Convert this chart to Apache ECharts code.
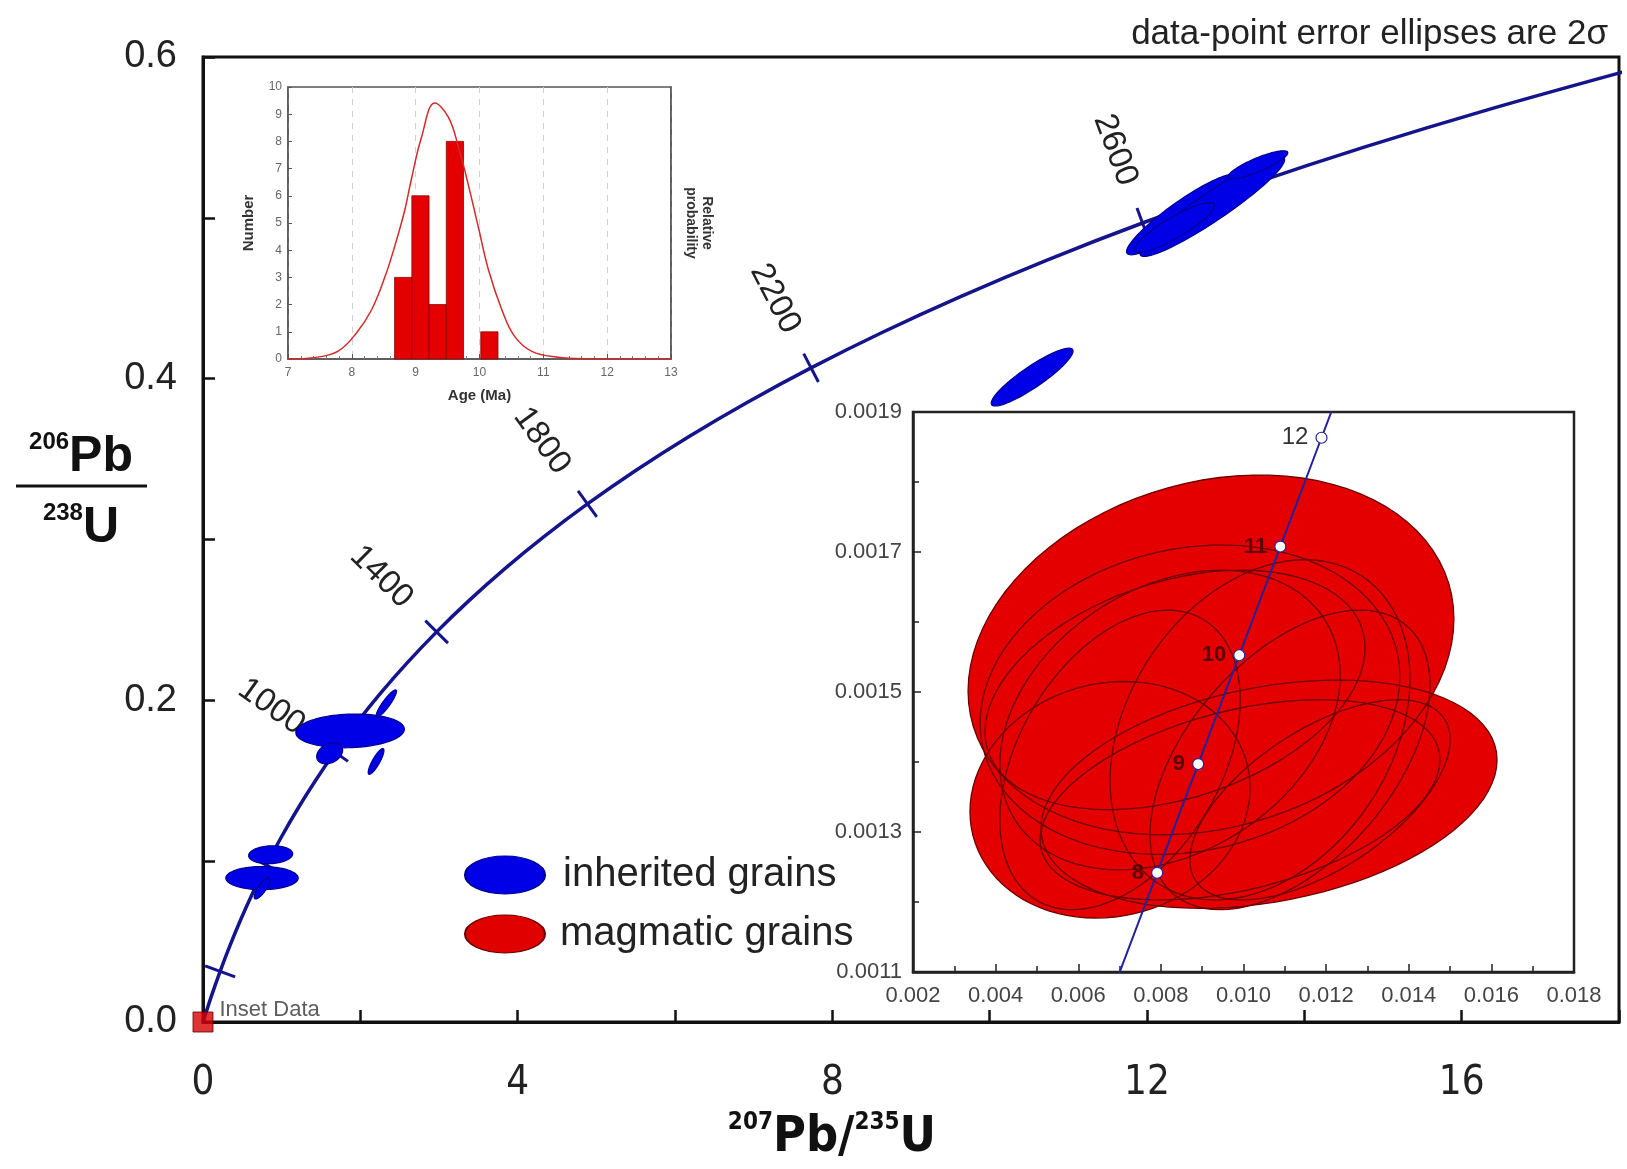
<!DOCTYPE html>
<html>
<head>
<meta charset="utf-8">
<title>concordia</title>
<script src="https://cdn.jsdelivr.net/npm/echarts@6/dist/echarts.min.js"></script>
<style>
html, body { margin: 0; padding: 0; background: #fff; }
#main { width: 1627px; height: 1169px; }
</style>
</head>
<body>
<div id="main"></div>
<script>
// concordia curve, one point per 100 Ma (0 .. 3000 Ma)
var concX = [0, 0.1035, 0.2177, 0.3438, 0.4828, 0.6363, 0.8057, 0.9926, 1.1988, 1.4263, 1.6774,
  1.9546, 2.2604, 2.5978, 2.9700, 3.3810, 3.8344, 4.3346, 4.8868, 5.4960, 6.1686,
  6.9106, 7.7293, 8.6325, 9.6293, 10.7293, 11.9433, 13.2832, 14.7611, 16.3922, 18.1919];
var concY = [0, 0.01563, 0.03151, 0.04764, 0.06402, 0.08065, 0.09754, 0.11470, 0.13213, 0.14983, 0.16781,
  0.18605, 0.20460, 0.22343, 0.24256, 0.26198, 0.28172, 0.30175, 0.32210, 0.34277, 0.36376,
  0.38508, 0.40673, 0.42872, 0.45105, 0.47374, 0.49678, 0.52018, 0.54394, 0.56808, 0.59260];
var tickAges = [200, 600, 1000, 1400, 1800, 2200, 2600];
var labelAges = [1000, 1400, 1800, 2200, 2600];

// inherited grains: centre x, centre y, half width x, half height y, correlation
var inherited = [
  [1.87, 0.181, 0.69, 0.0105, 0.1],
  [1.61, 0.167, 0.165, 0.0065, 0.3],
  [2.20, 0.162, 0.10, 0.008, 0.85],
  [2.33, 0.198, 0.13, 0.0085, 0.9],
  [0.86, 0.104, 0.28, 0.0056, 0.1],
  [0.75, 0.0895, 0.46, 0.0072, 0.0],
  [0.75, 0.083, 0.10, 0.0065, 0.8],
  [10.54, 0.401, 0.52, 0.018, 0.9],
  [12.44, 0.502, 0.70, 0.025, 0.92],
  [12.83, 0.507, 0.92, 0.031, 0.94],
  [13.41, 0.533, 0.38, 0.0087, 0.85],
  [12.35, 0.494, 0.51, 0.0155, 0.88]
];

// magmatic grains (inset)
var magmatic = [
  [0.009213, 0.001553, 0.00588, 0.000257, 0.2],
  [0.010617, 0.001354, 0.00552, 0.000163, 0.3],
  [0.006769, 0.001346, 0.00339, 0.000169, 0.1],
  [0.008705, 0.001489, 0.00508, 0.000221, 0.15],
  [0.008221, 0.001460, 0.00412, 0.000214, 0.3],
  [0.007011, 0.001403, 0.00291, 0.000214, 0.4],
  [0.010400, 0.001446, 0.00363, 0.000243, 0.3],
  [0.011126, 0.001403, 0.00339, 0.000214, 0.5],
  [0.009915, 0.001346, 0.00484, 0.000143, 0.4],
  [0.008343, 0.001503, 0.00460, 0.000171, 0.35],
  [0.011852, 0.001346, 0.00315, 0.000143, 0.6]
];

// young part of concordia (inset), ages in Ma
var insetAge = [7, 8, 9, 10, 11, 12, 12.5];
var insetX = [0.006918, 0.007910, 0.008903, 0.009897, 0.010892, 0.011888, 0.012387];
var insetY = [0.0010865, 0.0012417, 0.0013971, 0.0015525, 0.0017078, 0.0018632, 0.0019409];

// age histogram
var binStart = [8.67, 8.94, 9.21, 9.48, 10.02];
var binEnd = [8.94, 9.21, 9.48, 9.75, 10.29];
var binCount = [3, 6, 2, 8, 1];
var probX = [7.0, 7.4, 7.78, 8.07, 8.31, 8.52, 8.67, 8.83, 8.93, 9.09, 9.30, 9.51, 9.67, 9.82, 9.98, 10.14, 10.35, 10.55, 10.82, 11.2, 11.7, 13.0];
var probY = [0, 0.05, 0.28, 0.95, 1.81, 3.03, 4.13, 5.48, 6.58, 8.14, 9.41, 8.9, 7.8, 6.45, 4.87, 3.28, 1.81, 0.83, 0.28, 0.07, 0.01, 0];

var FONT = '"Liberation Sans", Arial, Helvetica, sans-serif';
var NARROW = '"Liberation Sans Narrow", "DejaVu Sans Condensed", "Liberation Sans", Arial, sans-serif';
var NAVY = '#14148c';

var chart = echarts.init(document.getElementById('main'));

function ellipseItem(fill, stroke, lw) {
  return function (params, api) {
    var cx = api.value(0), cy = api.value(1), ax = api.value(2), ay = api.value(3), r = api.value(4);
    var q = Math.sqrt(1 - r * r), pts = [];
    for (var k = 0; k < 90; k++) {
      var t = k / 90 * Math.PI * 2;
      pts.push(api.coord([cx + ax * Math.cos(t), cy + ay * (r * Math.cos(t) + q * Math.sin(t))]));
    }
    return { type: 'polygon', shape: { points: pts }, style: { fill: fill, stroke: stroke, lineWidth: lw } };
  };
}

function concTick(params, api) {
  var i = api.value(2);
  var p = api.coord([concX[i], concY[i]]);
  var a = api.coord([concX[i - 1], concY[i - 1]]);
  var b = api.coord([concX[i + 1], concY[i + 1]]);
  var tx = b[0] - a[0], ty = b[1] - a[1];
  var len = Math.sqrt(tx * tx + ty * ty);
  tx /= len; ty /= len;
  var nx = ty, ny = -tx; // normal pointing up-left
  var kids = [{
    type: 'line',
    shape: { x1: p[0] - nx * 16, y1: p[1] - ny * 16, x2: p[0] + nx * 16, y2: p[1] + ny * 16 },
    style: { stroke: NAVY, lineWidth: 3 }
  }];
  var age = api.value(3);
  if (labelAges.indexOf(age) >= 0) {
    kids.push({
      type: 'text',
      x: p[0] + nx * 78, y: p[1] + ny * 78,
      rotation: Math.atan2(ny, -nx),
      style: { text: String(age), fontSize: 33, fontFamily: FONT, fill: '#222', align: 'center', verticalAlign: 'middle' }
    });
  }
  return { type: 'group', children: kids };
}

function histBar(params, api) {
  var p0 = api.coord([api.value(0), api.value(2)]);
  var p1 = api.coord([api.value(1), 0]);
  return { type: 'rect', shape: { x: p0[0], y: p0[1], width: p1[0] - p0[0], height: p1[1] - p0[1] },
    style: { fill: '#e40000', stroke: '#8a0000', lineWidth: 0.8 } };
}

var concData = concX.map(function (x, i) { return [x, concY[i]]; });
var tickData = tickAges.map(function (a) { var i = a / 100; return [concX[i], concY[i], i, a]; });
var histData = binStart.map(function (s, i) { return [s, binEnd[i], binCount[i]]; });
var probData = probX.map(function (x, i) { return [x, probY[i]]; });
var insetLine = insetX.map(function (x, i) { return [x, insetY[i]]; });
var insetPts = [];
for (var i = 1; i < insetAge.length - 1; i++) {
  insetPts.push({
    value: [insetX[i], insetY[i], insetAge[i]],
    label: insetAge[i] === 12
      ? { color: '#333', fontWeight: 'normal', fontSize: 24 }
      : { color: '#5c0000', fontWeight: 'bold', fontSize: 22 }
  });
}

option = {
  animation: false,
  backgroundColor: '#fff',
  textStyle: { fontFamily: FONT },
  title: {
    text: 'data-point error ellipses are 2σ',
    right: 14, top: 12,
    textStyle: { fontSize: 35, fontWeight: 'normal', color: '#222', fontFamily: FONT }
  },
  grid: [
    { left: 203, right: 8, top: 57, bottom: 147, show: true, borderColor: '#111', borderWidth: 3 },
    { left: 288, top: 87, width: 383, height: 272, show: true, borderColor: '#555', borderWidth: 1.5, backgroundColor: '#fff' },
    { left: 913, top: 412, width: 661, height: 560, show: true, borderColor: '#222', borderWidth: 2.5, backgroundColor: '#fff' }
  ],
  xAxis: [
    {
      gridIndex: 0, type: 'value', min: 0, max: 18, interval: 2,
      axisLine: { lineStyle: { color: '#111', width: 3 } },
      axisTick: { inside: true, length: 12, lineStyle: { color: '#111', width: 2.5 } },
      axisLabel: { fontSize: 40, color: '#222', margin: 42, fontFamily: NARROW,
        formatter: function (v) { return v % 4 === 0 ? String(v) : ''; } },
      splitLine: { show: false }
    },
    {
      gridIndex: 1, type: 'value', min: 7, max: 13, interval: 1,
      axisLine: { lineStyle: { color: '#555', width: 1.5 } },
      axisTick: { inside: true, length: 5, lineStyle: { color: '#555' } },
      minorTick: { show: true, splitNumber: 5, length: 3, lineStyle: { color: '#777' } },
      axisLabel: { fontSize: 12, color: '#666', margin: 8 },
      splitLine: { show: true, lineStyle: { type: [6, 6], color: '#d0d0d0', width: 1 } },
      name: 'Age (Ma)', nameLocation: 'middle', nameGap: 29,
      nameTextStyle: { fontSize: 15, fontWeight: 'bold', color: '#333' }
    },
    {
      gridIndex: 2, type: 'value', min: 0.002, max: 0.018, interval: 0.002,
      axisLine: { lineStyle: { color: '#222', width: 2.5 } },
      axisTick: { inside: true, length: 8, lineStyle: { color: '#222', width: 1.5 } },
      minorTick: { show: true, splitNumber: 2, length: 6, lineStyle: { color: '#222', width: 1.5 } },
      axisLabel: { fontSize: 22, color: '#444', margin: 13, formatter: function (v) { return v.toFixed(3); } },
      splitLine: { show: false }
    }
  ],
  yAxis: [
    {
      gridIndex: 0, type: 'value', min: 0, max: 0.6, interval: 0.1,
      axisLine: { lineStyle: { color: '#111', width: 3 } },
      axisTick: { inside: true, length: 12, lineStyle: { color: '#111', width: 2.5 } },
      axisLabel: { fontSize: 38, color: '#222', margin: 26,
        formatter: function (v) { return Math.round(v * 10) % 2 === 0 ? v.toFixed(1) : ''; } },
      splitLine: { show: false }
    },
    {
      gridIndex: 1, type: 'value', min: 0, max: 10, interval: 1,
      axisLine: { lineStyle: { color: '#555', width: 1.5 } },
      axisTick: { inside: true, length: 4, lineStyle: { color: '#555' } },
      axisLabel: { fontSize: 12, color: '#666', margin: 6 },
      splitLine: { show: false },
      name: 'Number', nameLocation: 'middle', nameRotate: 90, nameGap: 32,
      nameTextStyle: { fontSize: 15, fontWeight: 'bold', color: '#333' }
    },
    {
      gridIndex: 1, type: 'value', position: 'right', min: 0, max: 10,
      axisLine: { show: true, lineStyle: { color: '#555', width: 1.5 } },
      axisTick: { show: false }, axisLabel: { show: false }, splitLine: { show: false },
      name: 'Relative\nprobability', nameLocation: 'middle', nameRotate: -90, nameGap: 12,
      nameTextStyle: { fontSize: 14, fontWeight: 'bold', color: '#333', lineHeight: 16 }
    },
    {
      gridIndex: 2, type: 'value', min: 0.0011, max: 0.0019, interval: 0.0002,
      axisLine: { lineStyle: { color: '#222', width: 2.5 } },
      axisTick: { inside: true, length: 8, lineStyle: { color: '#222', width: 1.5 } },
      minorTick: { show: true, splitNumber: 2, length: 6, lineStyle: { color: '#222', width: 1.5 } },
      axisLabel: { fontSize: 22, color: '#444', margin: 11, formatter: function (v) { return v.toFixed(4); } },
      splitLine: { show: false }
    }
  ],
  series: [
    {
      type: 'line', xAxisIndex: 0, yAxisIndex: 0, data: concData, smooth: 0.3,
      symbol: 'none', lineStyle: { color: NAVY, width: 3.5 }, z: 3
    },
    {
      type: 'custom', xAxisIndex: 0, yAxisIndex: 0, data: tickData, renderItem: concTick, z: 4
    },
    {
      name: 'inherited grains', type: 'custom', xAxisIndex: 0, yAxisIndex: 0, data: inherited,
      renderItem: ellipseItem('#0000e6', '#00008b', 1.2), z: 5
    },
    {
      type: 'scatter', xAxisIndex: 0, yAxisIndex: 0, data: [[0, 0]],
      symbol: 'rect', symbolSize: 20,
      itemStyle: { color: '#d80000', borderColor: '#6a0000', borderWidth: 1 },
      label: { show: true, position: 'right', distance: 6, offset: [0, -12], formatter: 'Inset Data',
        fontSize: 22, color: '#333' },
      z: 6
    },
    {
      type: 'custom', xAxisIndex: 1, yAxisIndex: 1, data: histData, renderItem: histBar, z: 3
    },
    {
      type: 'line', xAxisIndex: 1, yAxisIndex: 2, data: probData, smooth: 0.4,
      symbol: 'none', lineStyle: { color: '#d42a2a', width: 1.5 }, z: 4
    },
    {
      type: 'custom', xAxisIndex: 2, yAxisIndex: 3, data: magmatic,
      renderItem: ellipseItem('#e40000', null, 0), z: 2
    },
    {
      name: 'magmatic grains', type: 'custom', xAxisIndex: 2, yAxisIndex: 3, data: magmatic,
      renderItem: ellipseItem(null, '#6a0000', 1.3), z: 3
    },
    {
      type: 'line', xAxisIndex: 2, yAxisIndex: 3, data: insetLine,
      symbol: 'none', lineStyle: { color: '#22229a', width: 2 }, z: 4
    },
    {
      type: 'scatter', xAxisIndex: 2, yAxisIndex: 3, data: insetPts,
      symbol: 'circle', symbolSize: 11,
      itemStyle: { color: '#fff', borderColor: '#22229a', borderWidth: 1.2, opacity: 1 },
      label: { show: true, position: 'left', distance: 7,
        formatter: function (p) { return String(p.value[2]); } },
      z: 5
    }
  ],
  graphic: [
    // y axis title as a fraction
    { type: 'text', x: 81, y: 457, style: { text: '{s|206}{m|Pb}', align: 'center', verticalAlign: 'middle', fill: '#111',
      rich: { s: { fontSize: 24, fontWeight: 'bold', verticalAlign: 'top', lineHeight: 26, fill: '#111', fontFamily: FONT },
              m: { fontSize: 50, fontWeight: 'bold', lineHeight: 54, fill: '#111', fontFamily: FONT } } } },
    { type: 'line', shape: { x1: 16, y1: 486, x2: 147, y2: 486 }, style: { stroke: '#111', lineWidth: 3 } },
    { type: 'text', x: 81, y: 528, style: { text: '{s|238}{m|U}', align: 'center', verticalAlign: 'middle', fill: '#111',
      rich: { s: { fontSize: 24, fontWeight: 'bold', verticalAlign: 'top', lineHeight: 26, fill: '#111', fontFamily: FONT },
              m: { fontSize: 50, fontWeight: 'bold', lineHeight: 54, fill: '#111', fontFamily: FONT } } } },
    // x axis title
    { type: 'text', x: 832, y: 1138, style: { text: '{s|207}{m|Pb/}{s|235}{m|U}', align: 'center', verticalAlign: 'middle', fill: '#111',
      rich: { s: { fontSize: 24, fontWeight: 'bold', verticalAlign: 'top', lineHeight: 26, fill: '#111', fontFamily: NARROW },
              m: { fontSize: 50, fontWeight: 'bold', lineHeight: 54, fill: '#111', fontFamily: NARROW } } } },
    // legend
    { type: 'circle', x: 505, y: 875, scaleX: 40 / 19, shape: { cx: 0, cy: 0, r: 19 },
      style: { fill: '#0000e6', stroke: '#00008b', lineWidth: 1 } },
    { type: 'text', x: 563, y: 875, style: { text: 'inherited grains', fontSize: 40, fill: '#222', fontFamily: FONT, verticalAlign: 'middle' } },
    { type: 'circle', x: 505, y: 934, scaleX: 40 / 19, shape: { cx: 0, cy: 0, r: 19 },
      style: { fill: '#e00000', stroke: '#6a0000', lineWidth: 1 } },
    { type: 'text', x: 560, y: 934, style: { text: 'magmatic grains', fontSize: 40, fill: '#222', fontFamily: FONT, verticalAlign: 'middle' } }
  ]
};
chart.setOption(option);
</script>
</body>
</html>
